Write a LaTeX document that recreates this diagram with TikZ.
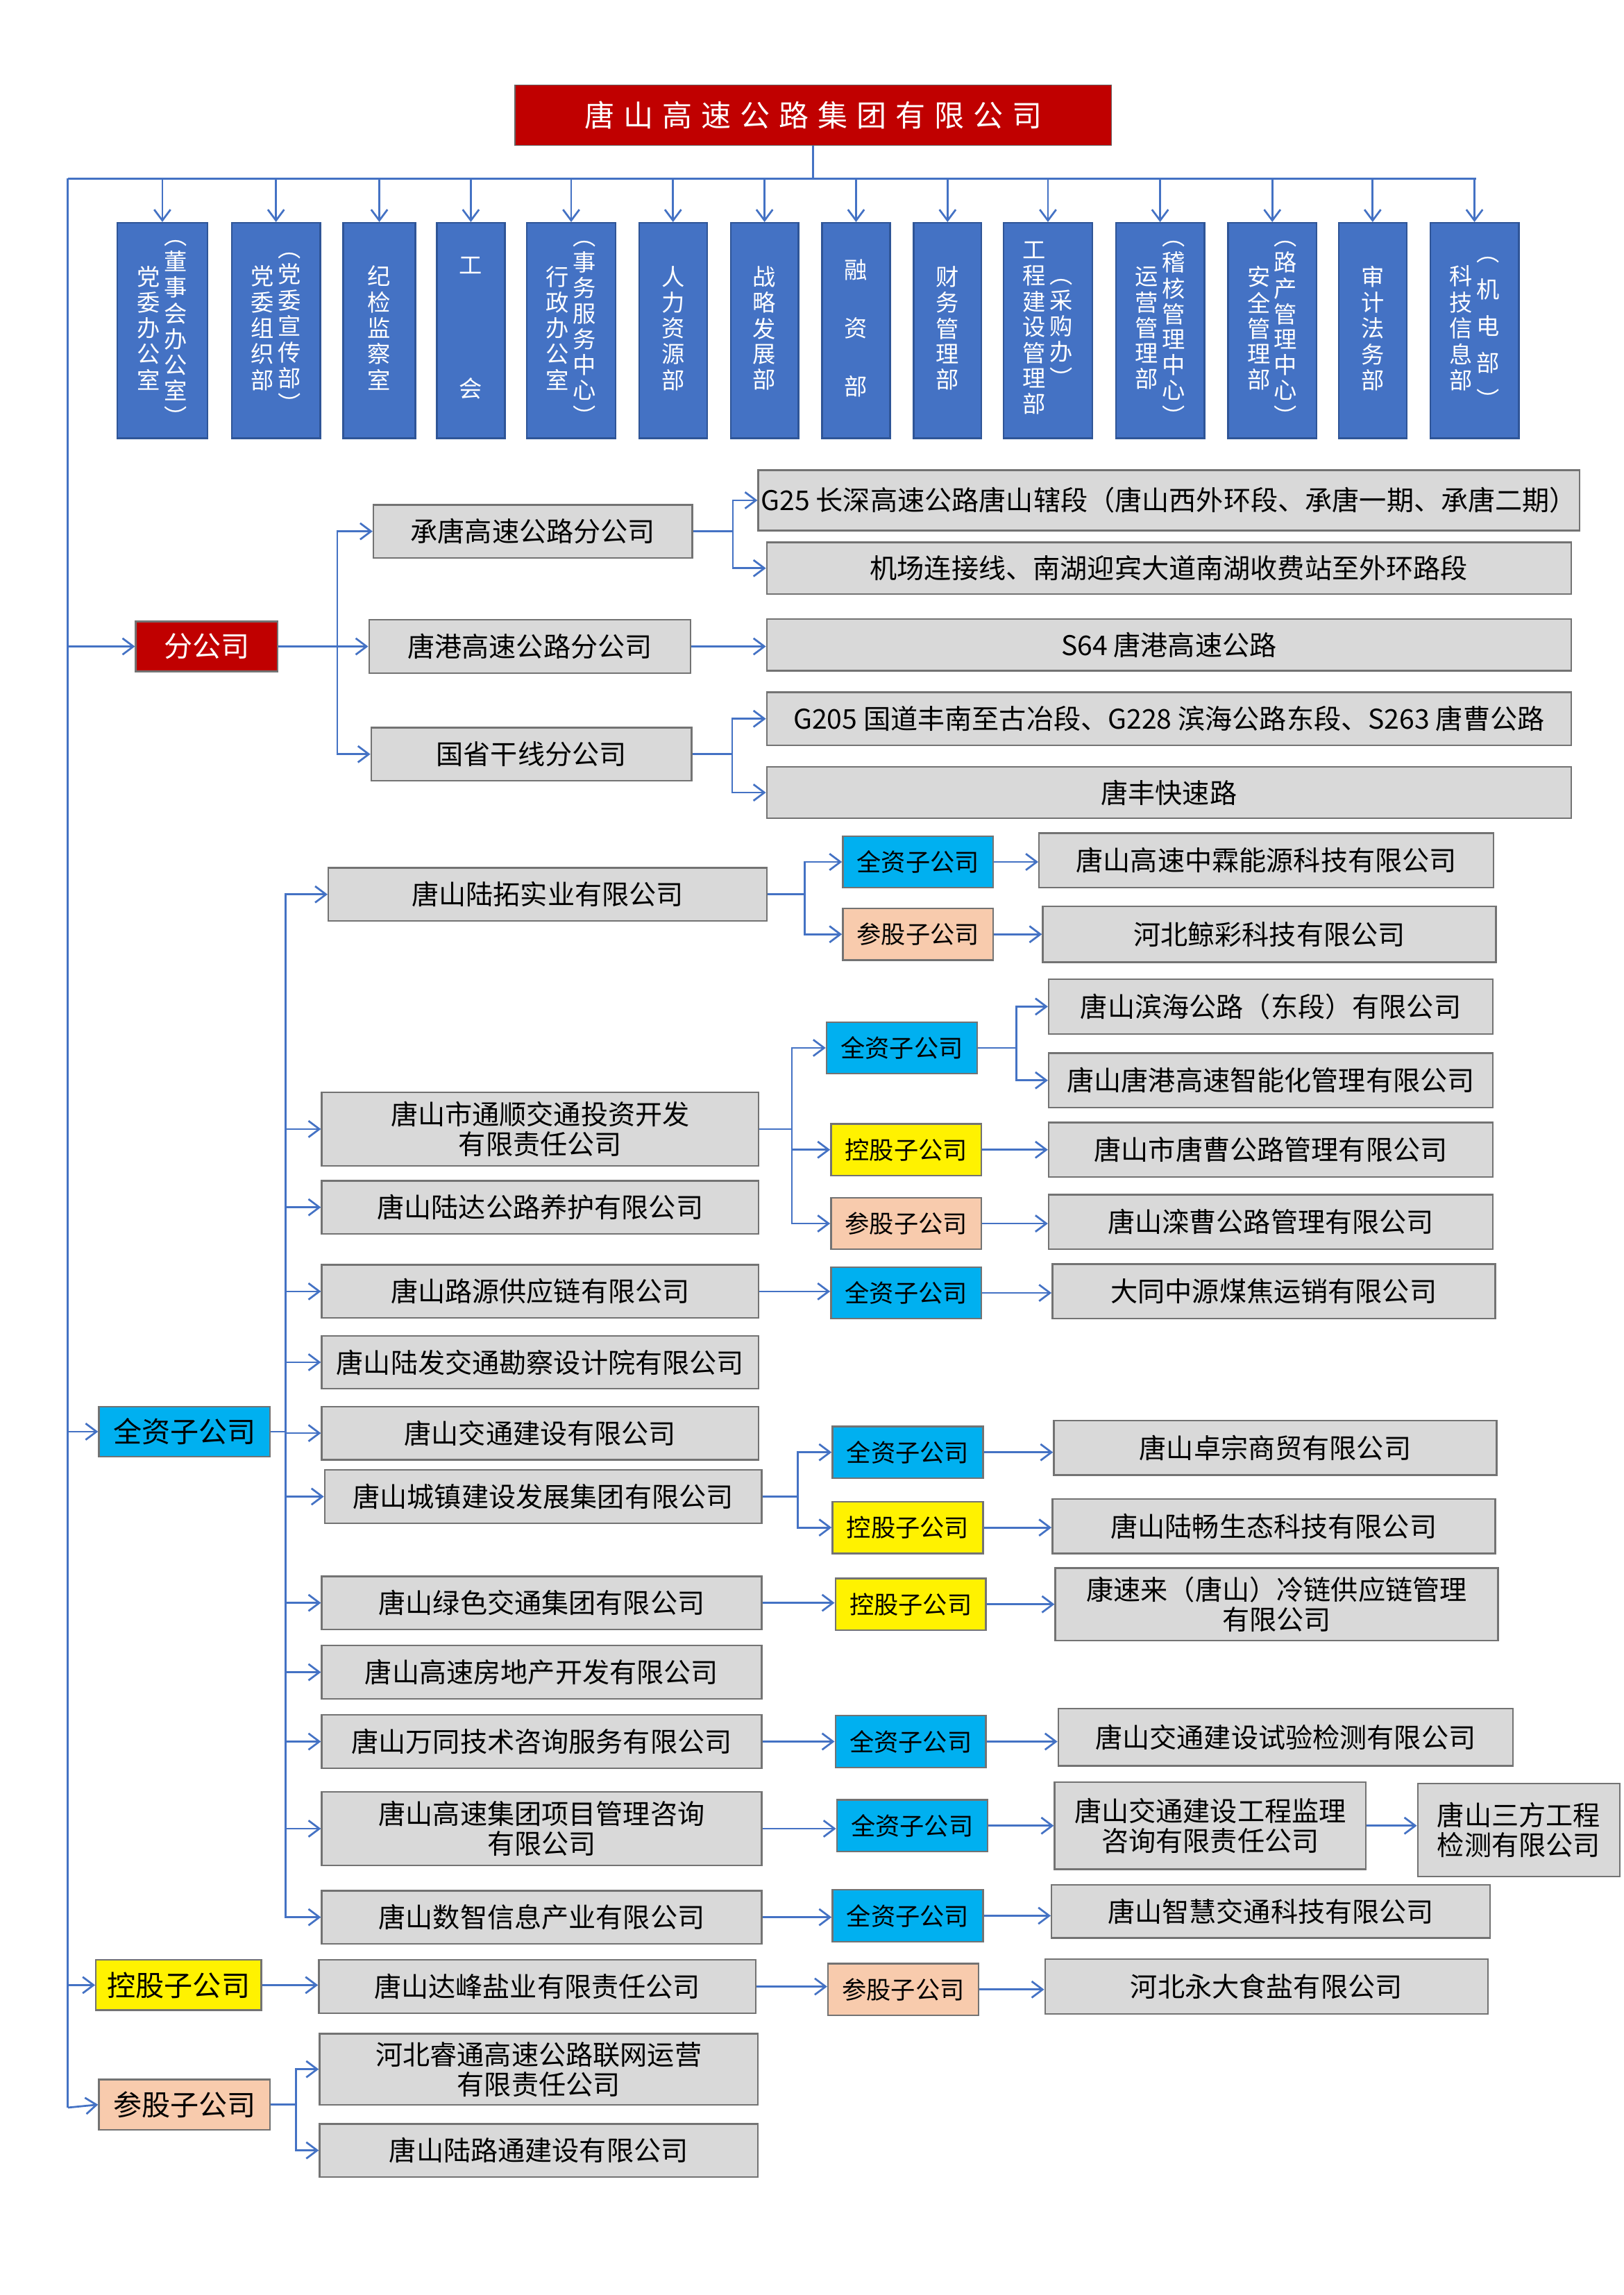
\documentclass[tikz,border=0pt]{standalone}
\usepackage{fontspec}
\setmainfont{Noto Sans CJK SC}
\newfontfamily\titlefont[LetterSpace=30]{Noto Sans CJK SC}
\usetikzlibrary{arrows.meta,calc}
\definecolor{deptblue}{HTML}{4472C4}
\definecolor{deptedge}{HTML}{2F5597}
\definecolor{boxred}{HTML}{C00000}
\definecolor{boxgrey}{HTML}{D9D9D9}
\definecolor{boxcyan}{HTML}{00B0F0}
\definecolor{boxpeach}{HTML}{F8CBAD}
\newlength\px
\setlength\px{0.01909cm}
\newcommand{\vc}[1]{{\renewcommand\arraystretch{0.8}\begin{tabular}{@{}c@{}}#1\end{tabular}}}

\begin{document}
\begin{tikzpicture}[x=0.01909cm,y=-0.01909cm,
	ln/.style={draw=deptblue,line width=0.7pt},
	arr/.style={ln,-{Straight Barb[length=4pt,width=6pt]}},
	dept/.style={draw=deptedge,fill=deptblue,text=white,line width=0.6pt,minimum height=146\px,inner sep=0pt,font=\fontsize{8.5pt}{10pt}\selectfont},
	gbox/.style={draw=black!55,fill=boxgrey,line width=0.6pt,inner sep=1pt,align=center,font=\fontsize{10pt}{11pt}\selectfont},
	sbox/.style={draw=black!55,line width=0.6pt,minimum width=102\px,minimum height=35\px,inner sep=0pt,font=\fontsize{9pt}{10pt}\selectfont},
	cbox/.style={draw=black!55,line width=0.6pt,minimum width=116\px,minimum height=34\px,inner sep=0pt,font=\fontsize{10.5pt}{11pt}\selectfont}]
\useasboundingbox (0,0) rectangle (1100,1555);

% head
\node[draw=black!60,fill=boxred,text=white,minimum width=404\px,minimum height=41\px,font=\fontsize{11pt}{12pt}\titlefont] (title) at (551,78) {唐山高速公路集团有限公司};
\coordinate (bus) at (46,121);
\coordinate (spineend) at (46,1428);
\coordinate (busend) at (1000,121);
\draw[ln] (title.south) -- (title.south |- bus);
\draw[ln] (bus) -- (busend);
\draw[ln] (bus) -- (spineend);

% departments
\node[dept,minimum width=61\px] (d1) at (110,224) {\vc{党\\委\\办\\公\\室}\,\vc{︵\\董\\事\\会\\办\\公\\室\\︶}};
\node[dept,minimum width=60\px] (d2) at (187,224) {\vc{党\\委\\组\\织\\部}\,\vc{︵\\党\\委\\宣\\传\\部\\︶}};
\node[dept,minimum width=49\px] (d3) at (257,224) {\vc{纪\\检\\监\\察\\室}};
\node[dept,minimum width=46\px] (d4) at (319,224) {\vc{工\\[36pt]会}};
\node[dept,minimum width=60\px] (d5) at (387,224) {\vc{行\\政\\办\\公\\室}\,\vc{︵\\事\\务\\服\\务\\中\\心\\︶}};
\node[dept,minimum width=46\px] (d6) at (456,224) {\vc{人\\力\\资\\源\\部}};
\node[dept,minimum width=46\px] (d7) at (518,224) {\vc{战\\略\\发\\展\\部}};
\node[dept,minimum width=46\px] (d8) at (580,224) {\vc{融\\[12pt]资\\[12pt]部}};
\node[dept,minimum width=46\px] (d9) at (642,224) {\vc{财\\务\\管\\理\\部}};
\node[dept,minimum width=60\px] (d10) at (710,224) {\vc{工\\程\\建\\设\\管\\理\\部}\,\vc{︵\\采\\购\\办\\︶}};
\node[dept,minimum width=60\px] (d11) at (786,224) {\vc{运\\营\\管\\理\\部}\,\vc{︵\\稽\\核\\管\\理\\中\\心\\︶}};
\node[dept,minimum width=60\px] (d12) at (862,224) {\vc{安\\全\\管\\理\\部}\,\vc{︵\\路\\产\\管\\理\\中\\心\\︶}};
\node[dept,minimum width=46\px] (d13) at (930,224) {\vc{审\\计\\法\\务\\部}};
\node[dept,minimum width=60\px] (d14) at (999,224) {\vc{科\\技\\信\\息\\部}\,\vc{︵\\[4pt]机\\[4pt]电\\[4pt]部\\[4pt]︶}};
\foreach \i in {1,...,14}
	\draw[arr] (d\i.north |- bus) -- (d\i.north);

% branches
\node[cbox,fill=boxred,text=white,minimum width=96\px] (fen) at (140,438) {分公司};
\node[gbox,minimum width=216\px,minimum height=36\px] (cht) at (361,360) {承唐高速公路分公司};
\node[gbox,minimum width=218\px,minimum height=36\px] (tgf) at (359,438) {唐港高速公路分公司};
\node[gbox,minimum width=217\px,minimum height=36\px] (gsf) at (360,511) {国省干线分公司};
\node[gbox,minimum width=545\px,minimum height=41\px] (g25) at (792,339) {G25 长深高速公路唐山辖段（唐山西外环段、承唐一期、承唐二期）};
\node[gbox,minimum width=545\px,minimum height=35\px] (jcl) at (792,385) {机场连接线、南湖迎宾大道南湖收费站至外环路段};
\node[gbox,minimum width=545\px,minimum height=35\px] (s64) at (792,437) {S64 唐港高速公路};
\node[gbox,minimum width=545\px,minimum height=36\px] (g205) at (792,487) {G205 国道丰南至古冶段、G228 滨海公路东段、S263 唐曹公路};
\node[gbox,minimum width=545\px,minimum height=35\px] (tfk) at (792,537) {唐丰快速路};
\draw[arr] (bus |- fen.west) -- (fen.west);
\foreach \n in {cht,tgf,gsf}
	\draw[arr] (fen.east) -- ++(40,0) |- (\n.west);
\draw[arr] (cht.east) -- ++(27,0) |- (g25.west);
\draw[arr] (cht.east) -- ++(27,0) |- (jcl.west);
\draw[arr] (tgf.east) -- (tgf.east -| s64.west);
\draw[arr] (gsf.east) -- ++(27,0) |- (g205.west);
\draw[arr] (gsf.east) -- ++(27,0) |- (tfk.west);

% wholly owned
\node[cbox,fill=boxcyan] (qz) at (125,970) {全资子公司};
\node[gbox,minimum width=297\px,minimum height=36\px] (lt) at (371,606) {唐山陆拓实业有限公司};
\node[gbox,minimum width=296\px,minimum height=50\px] (ts) at (366,765) {唐山市通顺交通投资开发\\有限责任公司};
\node[gbox,minimum width=296\px,minimum height=36\px] (ld) at (366,818) {唐山陆达公路养护有限公司};
\node[gbox,minimum width=296\px,minimum height=36\px] (ly) at (366,875) {唐山路源供应链有限公司};
\node[gbox,minimum width=296\px,minimum height=36\px] (lf) at (366,923) {唐山陆发交通勘察设计院有限公司};
\node[gbox,minimum width=296\px,minimum height=36\px] (jj) at (366,971) {唐山交通建设有限公司};
\node[gbox,minimum width=296\px,minimum height=36\px] (cz) at (368,1014) {唐山城镇建设发展集团有限公司};
\node[gbox,minimum width=298\px,minimum height=36\px] (ls) at (367,1086) {唐山绿色交通集团有限公司};
\node[gbox,minimum width=298\px,minimum height=36\px] (fd) at (367,1133) {唐山高速房地产开发有限公司};
\node[gbox,minimum width=298\px,minimum height=36\px] (wt) at (367,1180) {唐山万同技术咨询服务有限公司};
\node[gbox,minimum width=298\px,minimum height=50\px] (xm) at (367,1239) {唐山高速集团项目管理咨询\\有限公司};
\node[gbox,minimum width=298\px,minimum height=36\px] (sz) at (367,1299) {唐山数智信息产业有限公司};
\draw[arr] (bus |- qz.west) -- (qz.west);
\foreach \n in {lt,ts,ld,ly,lf,jj,cz,ls,fd,wt,xm,sz}
	\draw[arr] (qz.east) -- ++(10,0) |- (\n.west);

% second level
\node[sbox,fill=boxcyan] (lt1) at (622,584) {全资子公司};
\node[sbox,fill=boxpeach] (lt2) at (622,633) {参股子公司};
\node[gbox,minimum width=308\px,minimum height=37\px] (zl) at (858,583) {唐山高速中霖能源科技有限公司};
\node[gbox,minimum width=307\px,minimum height=38\px] (jc) at (860,633) {河北鲸彩科技有限公司};
\draw[arr] (lt.east) -- ++(25,0) |- (lt1.west);
\draw[arr] (lt.east) -- ++(25,0) |- (lt2.west);
\draw[arr] (lt1.east) -- (lt1.east -| zl.west);
\draw[arr] (lt2.east) -- (lt2.east -| jc.west);

\node[sbox,fill=boxcyan] (ts1) at (611,710) {全资子公司};
\node[sbox,fill=yellow] (ts2) at (614,779) {控股子公司};
\node[sbox,fill=boxpeach] (ts3) at (614,829) {参股子公司};
\node[gbox,minimum width=301\px,minimum height=37\px] (bh) at (861,682) {唐山滨海公路（东段）有限公司};
\node[gbox,minimum width=301\px,minimum height=37\px] (tgz) at (861,732) {唐山唐港高速智能化管理有限公司};
\node[gbox,minimum width=301\px,minimum height=37\px] (tc) at (861,779) {唐山市唐曹公路管理有限公司};
\node[gbox,minimum width=301\px,minimum height=37\px] (lc) at (861,828) {唐山滦曹公路管理有限公司};
\foreach \n in {ts1,ts2,ts3}
	\draw[arr] (ts.east) -- ++(22,0) |- (\n.west);
\draw[arr] (ts1.east) -- ++(26,0) |- (bh.west);
\draw[arr] (ts1.east) -- ++(26,0) |- (tgz.west);
\draw[arr] (ts2.east) -- (ts2.east -| tc.west);
\draw[arr] (ts3.east) -- (ts3.east -| lc.west);

\node[sbox,fill=boxcyan] (ly1) at (614,876) {全资子公司};
\node[gbox,minimum width=300\px,minimum height=37\px] (dt) at (863,875) {大同中源煤焦运销有限公司};
\draw[arr] (ly.east) -- (ly.east -| ly1.west);
\draw[arr] (ly1.east) -- (ly1.east -| dt.west);

\node[sbox,fill=boxcyan] (cz1) at (615,984) {全资子公司};
\node[sbox,fill=yellow] (cz2) at (615,1035) {控股子公司};
\node[gbox,minimum width=300\px,minimum height=37\px] (zz) at (864,981) {唐山卓宗商贸有限公司};
\node[gbox,minimum width=300\px,minimum height=37\px] (lch) at (863,1034) {唐山陆畅生态科技有限公司};
\draw[arr] (cz.east) -- ++(24,0) |- (cz1.west);
\draw[arr] (cz.east) -- ++(24,0) |- (cz2.west);
\draw[arr] (cz1.east) -- (cz1.east -| zz.west);
\draw[arr] (cz2.east) -- (cz2.east -| lch.west);

\node[sbox,fill=yellow] (ls1) at (617,1087) {控股子公司};
\node[gbox,minimum width=300\px,minimum height=49\px] (ksl) at (865,1087) {康速来（唐山）冷链供应链管理\\有限公司};
\draw[arr] (ls.east) -- (ls.east -| ls1.west);
\draw[arr] (ls1.east) -- (ls1.east -| ksl.west);

\node[sbox,fill=boxcyan] (wt1) at (617,1180) {全资子公司};
\node[gbox,minimum width=308\px,minimum height=39\px] (sy) at (871,1177) {唐山交通建设试验检测有限公司};
\draw[arr] (wt.east) -- (wt.east -| wt1.west);
\draw[arr] (wt1.east) -- (wt1.east -| sy.west);

\node[sbox,fill=boxcyan] (xm1) at (618,1237) {全资子公司};
\node[gbox,minimum width=211\px,minimum height=59\px] (jl) at (820,1237) {唐山交通建设工程监理\\咨询有限责任公司};
\node[gbox,minimum width=137\px,minimum height=63\px] (sf) at (1029,1240) {唐山三方工程\\检测有限公司};
\draw[arr] (xm.east) -- (xm.east -| xm1.west);
\draw[arr] (xm1.east) -- (xm1.east -| jl.west);
\draw[arr] (jl.east) -- (jl.east -| sf.west);

\node[sbox,fill=boxcyan] (sz1) at (615,1298) {全资子公司};
\node[gbox,minimum width=297\px,minimum height=36\px] (zh) at (861,1295) {唐山智慧交通科技有限公司};
\draw[arr] (sz.east) -- (sz.east -| sz1.west);
\draw[arr] (sz1.east) -- (sz1.east -| zh.west);

% holding
\node[cbox,fill=yellow,minimum width=112\px] (kg) at (121,1345) {控股子公司};
\node[gbox,minimum width=296\px,minimum height=36\px] (df) at (364,1346) {唐山达峰盐业有限责任公司};
\node[sbox,fill=boxpeach] (df1) at (612,1348) {参股子公司};
\node[gbox,minimum width=300\px,minimum height=37\px] (yd) at (858,1346) {河北永大食盐有限公司};
\draw[arr] (bus |- kg.west) -- (kg.west);
\draw[arr] (kg.east) -- (kg.east -| df.west);
\draw[arr] (df.east) -- (df.east -| df1.west);
\draw[arr] (df1.east) -- (df1.east -| yd.west);

% share
\node[cbox,fill=boxpeach] (cg) at (125,1426) {参股子公司};
\node[gbox,minimum width=297\px,minimum height=48\px] (rt) at (365,1402) {河北睿通高速公路联网运营\\有限责任公司};
\node[gbox,minimum width=297\px,minimum height=36\px] (llt) at (365,1457) {唐山陆路通建设有限公司};
\draw[arr] (spineend) -- (cg.west);
\draw[arr] (cg.east) -- ++(17,0) |- (rt.west);
\draw[arr] (cg.east) -- ++(17,0) |- (llt.west);
\end{tikzpicture}
\end{document}
